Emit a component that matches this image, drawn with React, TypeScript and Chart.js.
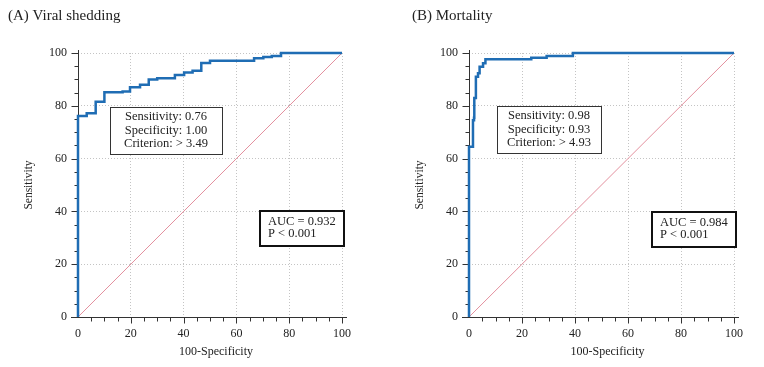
import React, { useEffect, useRef } from 'react';
import { Chart, registerables } from 'chart.js';
Chart.register(...registerables);

// ROC curve (A) Viral shedding: 100-Specificity (%) and Sensitivity (%)
const ROC_A_FPR = [0, 0, 3.3, 6.7, 10, 16.9, 19.7, 23.5, 26.8, 30, 36.7, 40.2, 43.4, 46.7, 50, 66.7, 70.2, 73.4, 76.9, 100];
const ROC_A_TPR = [0, 76.1, 77.2, 81.5, 85.1, 85.4, 87, 88, 90, 90.4, 91.7, 92.6, 93.3, 96.2, 97.1, 98, 98.5, 98.9, 100, 100];
// ROC curve (B) Mortality
const ROC_B_FPR = [0, 0, 1.5, 1.9, 2.0, 2.6, 3.4, 4.0, 5.3, 6.2, 23.5, 29.3, 39.2, 100];
const ROC_B_TPR = [0, 64.5, 74.5, 75.5, 83, 91, 92.3, 94.8, 96.1, 97.6, 98.2, 98.9, 100, 100];
// reference (chance) line
const REF_X = [0, 100];
const REF_Y = [0, 100];

const TITLE_A = '(A) Viral shedding';
const TITLE_B = '(B) Mortality';
const STATS_A = ['Sensitivity: 0.76', 'Specificity: 1.00', 'Criterion: > 3.49'];
const STATS_B = ['Sensitivity: 0.98', 'Specificity: 0.93', 'Criterion: > 4.93'];
const AUC_A = ['AUC = 0.932', 'P < 0.001'];
const AUC_B = ['AUC = 0.984', 'P < 0.001'];
const X_TITLE = '100-Specificity';
const Y_TITLE = 'Sensitivity';

const FONT = '"Liberation Serif", "Times New Roman", serif';
const TEXT = '#222';

type BoxSpec = { x0: number; x1: number; yTop: number; yBot: number; lines: string[]; align: 'center' | 'left'; border: number };
type PanelSpec = {
  title: string; titleX: number; fpr: number[]; tpr: number[];
  left: number; width: number; yAxisWidth: number; padRight: number; yTitleX: number; boxes: BoxSpec[];
};

const PANELS: PanelSpec[] = [
  {
    title: TITLE_A, titleX: 8, fpr: ROC_A_FPR, tpr: ROC_A_TPR,
    left: 0, width: 382, yAxisWidth: 78, padRight: 40, yTitleX: 29,
    boxes: [
      { x0: 12.1, x1: 54.5, yTop: 79.5, yBot: 61.7, lines: STATS_A, align: 'center', border: 1 },
      { x0: 68.9, x1: 100.8, yTop: 40.2, yBot: 26.9, lines: AUC_A, align: 'left', border: 2 },
    ],
  },
  {
    title: TITLE_B, titleX: 30, fpr: ROC_B_FPR, tpr: ROC_B_TPR,
    left: 382, width: 382, yAxisWidth: 87, padRight: 30, yTitleX: 38,
    boxes: [
      { x0: 10.5, x1: 49.7, yTop: 79.9, yBot: 62.1, lines: STATS_B, align: 'center', border: 1 },
      { x0: 69.2, x1: 100.9, yTop: 39.8, yBot: 26.5, lines: AUC_B, align: 'left', border: 2 },
    ],
  },
];

function Panel({ spec }: { spec: PanelSpec }) {
  const ref = useRef<HTMLCanvasElement>(null);
  useEffect(() => {
    const canvas = ref.current!;
    const decor = {
      id: 'rocDecor',
      beforeDatasetsDraw(chart: any) {
        const { ctx, chartArea: ca } = chart;
        const xs = chart.scales.x;
        const ys = chart.scales.y;
        const ax = Math.round(ca.left) + 0.5;
        const ay = Math.round(ca.bottom) + 0.5;
        ctx.save();
        ctx.strokeStyle = '#333';
        ctx.lineWidth = 1;
        ctx.beginPath();
        ctx.moveTo(ax, ay);
        ctx.lineTo(ax, ca.top - 3);
        ctx.moveTo(ca.left - 7, ay);
        ctx.lineTo(ca.right + 5, ay);
        for (let v = 0; v <= 100; v += 5) {
          const major = v % 20 === 0;
          const py = Math.round(ys.getPixelForValue(v)) + 0.5;
          ctx.moveTo(ax - (major ? 7 : 4), py);
          ctx.lineTo(ax, py);
          if (v > 0) {
            const px = Math.round(xs.getPixelForValue(v)) + 0.5;
            ctx.moveTo(px, ay);
            ctx.lineTo(px, ay + (major ? 6 : 4));
          }
        }
        ctx.stroke();
        ctx.restore();
      },
      afterDraw(chart: any) {
        const { ctx, chartArea: ca } = chart;
        const xs = chart.scales.x;
        const ys = chart.scales.y;
        ctx.save();
        ctx.fillStyle = TEXT;
        // panel title
        ctx.font = `15px ${FONT}`;
        ctx.textAlign = 'left';
        ctx.textBaseline = 'alphabetic';
        ctx.fillText(spec.title, spec.titleX, 20);
        // x axis title
        ctx.font = `12px ${FONT}`;
        ctx.textAlign = 'center';
        ctx.textBaseline = 'middle';
        ctx.fillText(X_TITLE, (ca.left + ca.right) / 2 + 6, 352);
        // y axis title
        ctx.save();
        ctx.translate(spec.yTitleX, (ca.top + ca.bottom) / 2);
        ctx.rotate(-Math.PI / 2);
        ctx.font = `11.5px ${FONT}`;
        ctx.fillText(Y_TITLE, 0, 0);
        ctx.restore();
        // stat boxes
        for (const b of spec.boxes) {
          const x0 = Math.round(xs.getPixelForValue(b.x0));
          const x1 = Math.round(xs.getPixelForValue(b.x1));
          const y0 = Math.round(ys.getPixelForValue(b.yTop));
          const y1 = Math.round(ys.getPixelForValue(b.yBot));
          ctx.fillStyle = '#fff';
          ctx.fillRect(x0, y0, x1 - x0, y1 - y0);
          ctx.strokeStyle = b.border > 1 ? '#111' : '#333';
          ctx.lineWidth = b.border;
          const off = b.border % 2 === 1 ? 0.5 : 0;
          ctx.strokeRect(x0 + off, y0 + off, x1 - x0, y1 - y0);
          ctx.fillStyle = TEXT;
          ctx.font = `12.5px ${FONT}`;
          ctx.textBaseline = 'middle';
          const n = b.lines.length;
          const lh = b.align === 'center' ? 13.5 : 12;
          const cy = (y0 + y1) / 2 - (b.align === 'left' ? 1 : 0);
          b.lines.forEach((t, i) => {
            const ty = cy + (i - (n - 1) / 2) * lh;
            if (b.align === 'center') {
              ctx.textAlign = 'center';
              ctx.fillText(t, (x0 + x1) / 2, ty);
            } else {
              ctx.textAlign = 'left';
              ctx.fillText(t, x0 + 8, ty);
            }
          });
        }
        ctx.restore();
      },
    };

    const chart = new Chart(canvas, {
      type: 'line',
      data: {
        datasets: [
          {
            data: spec.fpr.map((x, i) => ({ x, y: spec.tpr[i] })),
            borderColor: '#1f6db4',
            borderWidth: 2.5,
            pointRadius: 0,
            stepped: 'before',
            clip: 5,
            fill: false,
          } as any,
          {
            data: REF_X.map((x, i) => ({ x, y: REF_Y[i] })),
            borderColor: '#e3909e',
            borderWidth: 1,
            pointRadius: 0,
            fill: false,
          },
        ],
      },
      options: {
        responsive: false,
        animation: false,
        devicePixelRatio: 1,
        layout: { padding: { left: 0, right: spec.padRight, top: 53, bottom: 0 } },
        plugins: { legend: { display: false }, tooltip: { enabled: false }, title: { display: false } },
        scales: {
          x: {
            type: 'linear',
            min: 0,
            max: 100,
            afterFit: (s: any) => { s.height = 50; },
            ticks: { stepSize: 20, color: TEXT, font: { family: FONT, size: 12 }, padding: 10, maxRotation: 0, autoSkip: false },
            grid: { color: '#c4c4c4', drawTicks: false, lineWidth: 1 },
            border: { display: false, dash: [1, 2] },
          },
          y: {
            type: 'linear',
            min: 0,
            max: 100,
            afterFit: (s: any) => { s.width = spec.yAxisWidth; },
            ticks: { stepSize: 20, color: TEXT, font: { family: FONT, size: 12 }, padding: 11 },
            grid: { color: '#c4c4c4', drawTicks: false, lineWidth: 1 },
            border: { display: false, dash: [1, 2] },
          },
        },
      },
      plugins: [decor],
    });
    return () => chart.destroy();
  }, [spec]);

  return (
    <div style={{ position: 'absolute', left: spec.left, top: 0, width: spec.width, height: 367 }}>
      <canvas ref={ref} width={spec.width} height={367} style={{ width: spec.width, height: 367, display: 'block' }} />
    </div>
  );
}

export default function App() {
  return (
    <div style={{ position: 'absolute', left: 0, top: 0, width: 764, height: 367, background: '#fff', overflow: 'hidden' }}>
      {PANELS.map((p) => (
        <Panel key={p.title} spec={p} />
      ))}
    </div>
  );
}
